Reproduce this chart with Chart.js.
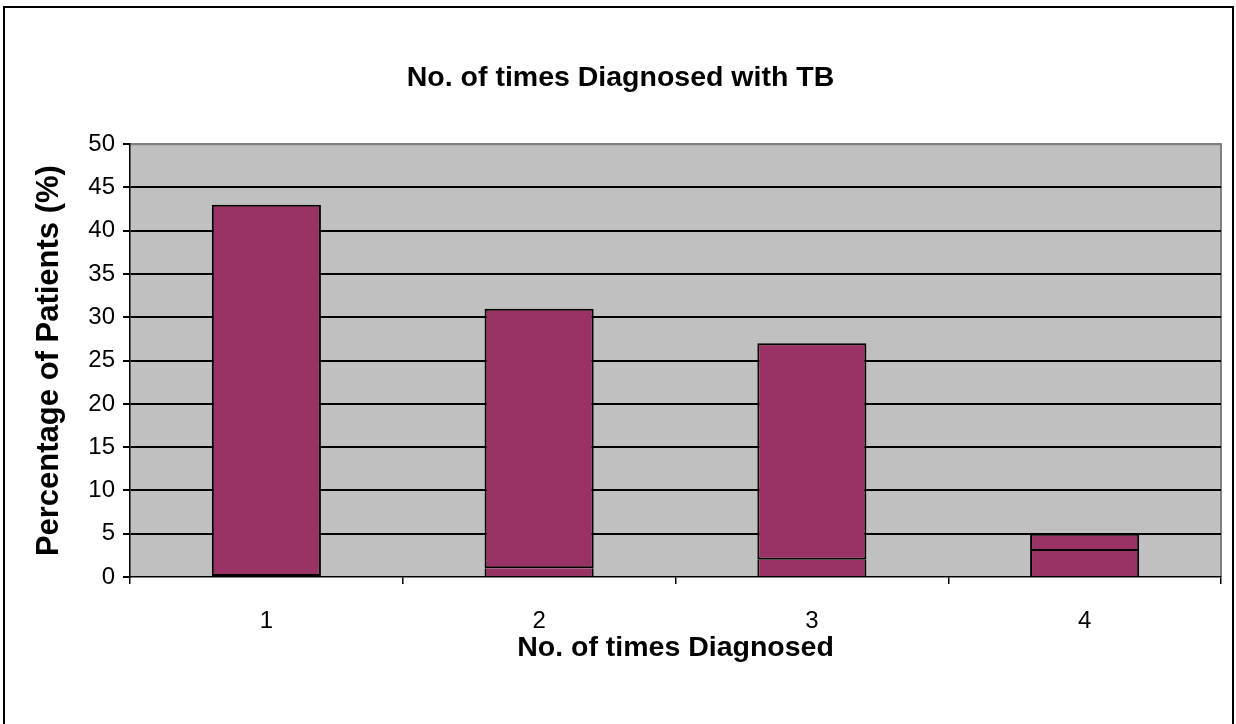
<!DOCTYPE html>
<html>
<head>
<meta charset="utf-8">
<title>No. of times Diagnosed with TB</title>
<script src="https://cdn.jsdelivr.net/npm/chart.js@4.4.1/dist/chart.umd.min.js"></script>
<style>
  html, body { margin: 0; padding: 0; background: #ffffff; }
  #wrap { width: 1236px; height: 724px; }
</style>
</head>
<body>
<div id="wrap"><canvas id="chart" width="1236" height="724"></canvas></div>
<script>
// Categories and stacked series values (percentage of patients)
const categories = ['1', '2', '3', '4'];
const lowerSegment = [0, 1, 2, 3];
const upperSegment = [43, 30, 25, 2];
const yTicks = [0, 5, 10, 15, 20, 25, 30, 35, 40, 45, 50];

const chartTitle = 'No. of times Diagnosed with TB';
const xTitle = 'No. of times Diagnosed';
const yTitle = 'Percentage of Patients (%)';

const FONT = "'Liberation Sans', Arial, sans-serif";
const BAR_COLOR = '#993366';
const PLOT_BG = '#C0C0C0';
// the lower segment draws only its sides; the upper segment, drawn last,
// outlines itself fully so the dividing line stays crisp
const LOWER_BORDER = { top: 0, left: 2, right: 2, bottom: 0 };
const UPPER_BORDER = { top: 2, left: 2, right: 2, bottom: 2 };

// Plot background, plot frame and outer frame
const framePlugin = {
  id: 'framePlugin',
  beforeDraw(chart) {
    const { ctx, chartArea: a } = chart;
    ctx.save();
    ctx.fillStyle = '#ffffff';
    ctx.fillRect(0, 0, chart.width, chart.height);
    ctx.fillStyle = PLOT_BG;
    ctx.fillRect(a.left, a.top, a.right - a.left, a.bottom - a.top);
    ctx.strokeStyle = '#808080';
    ctx.lineWidth = 2;
    ctx.beginPath();
    ctx.moveTo(a.left, a.top);
    ctx.lineTo(a.right, a.top);
    ctx.lineTo(a.right, a.bottom);
    ctx.stroke();
    ctx.strokeStyle = '#000000';
    ctx.lineWidth = 2;
    ctx.strokeRect(4, 7, chart.width - 7, chart.height + 20);
    ctx.restore();
  }
};

new Chart(document.getElementById('chart'), {
  type: 'bar',
  data: {
    labels: categories,
    datasets: [
      {
        label: 'lower',
        data: lowerSegment,
        backgroundColor: BAR_COLOR,
        borderColor: '#000000',
        borderWidth: LOWER_BORDER,
        borderSkipped: false
      },
      {
        label: 'upper',
        data: upperSegment,
        backgroundColor: BAR_COLOR,
        borderColor: '#000000',
        borderWidth: UPPER_BORDER,
        borderSkipped: false
      }
    ]
  },
  options: {
    responsive: false,
    animation: false,
    devicePixelRatio: 1,
    barPercentage: 0.4,
    categoryPercentage: 1.0,
    layout: { padding: { left: 20, right: 15, top: 10, bottom: 10 } },
    plugins: {
      legend: { display: false },
      tooltip: { enabled: false },
      title: {
        display: true,
        text: chartTitle,
        color: '#000000',
        font: { family: FONT, size: 28.5, weight: 'bold', lineHeight: 1.2 },
        padding: { top: 51, bottom: 49 }
      }
    },
    scales: {
      x: {
        stacked: true,
        offset: true,
        grid: {
          display: true,
          offset: true,
          drawOnChartArea: false,
          drawTicks: true,
          tickLength: 7,
          color: '#000000',
          tickColor: '#000000',
          lineWidth: 1.5
        },
        border: { display: true, color: '#000000', width: 1.5 },
        ticks: {
          color: '#000000',
          font: { family: FONT, size: 24, lineHeight: 1.2 },
          padding: 23,
          maxRotation: 0
        },
        title: {
          display: true,
          text: xTitle,
          color: '#000000',
          font: { family: FONT, size: 28.5, weight: 'bold', lineHeight: 1.2 },
          padding: { top: 0, bottom: 49 }
        },
        afterFit(scale) { scale.height = 137; }
      },
      y: {
        stacked: true,
        min: 0,
        max: 50,
        afterBuildTicks(scale) { scale.ticks = yTicks.map(v => ({ value: v })); },
        grid: {
          drawTicks: true,
          tickLength: 7,
          color: ctx => (ctx.tick && ctx.tick.value === 50) ? '#808080' : (ctx.tick && ctx.tick.value === 0 ? 'rgba(0,0,0,0)' : '#000000'),
          tickColor: '#000000',
          lineWidth: 2
        },
        border: { display: true, color: '#000000', width: 1.5 },
        ticks: {
          color: '#000000',
          font: { family: FONT, size: 24, lineHeight: 1.2 },
          padding: 8
        },
        title: {
          display: true,
          text: yTitle,
          color: '#000000',
          font: { family: FONT, size: 31, weight: 'bold', lineHeight: 1.2 },
          padding: { top: 11, bottom: 0 }
        },
        afterFit(scale) { scale.width = 110; }
      }
    }
  },
  plugins: [framePlugin]
});
</script>
</body>
</html>
